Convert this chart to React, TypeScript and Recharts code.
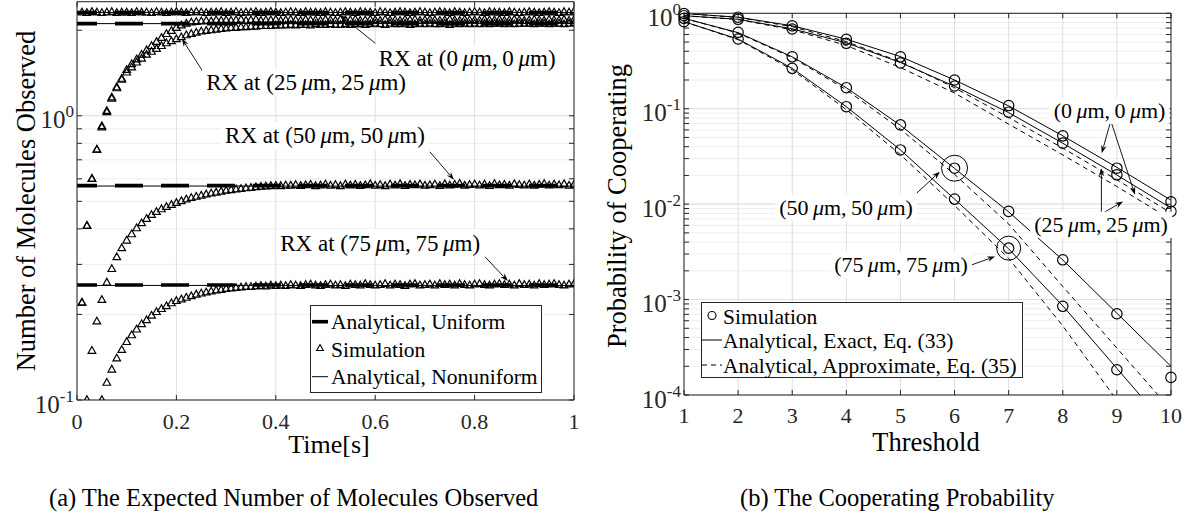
import React from 'react';
import { LineChart, Line, XAxis, YAxis, CartesianGrid, ReferenceLine, ReferenceDot } from 'recharts';

const FONT = '"Liberation Serif", "Times New Roman", Times, serif';
const AXIS = '#262626';
const GRID_MAJOR = '#dedede';
const GRID_MINOR = '#eeeeee';

// ---------------- (a) expected number of molecules observed ----------------
const timeTicks = [0, 0.2, 0.4, 0.6, 0.8, 1];
const timeSpan = [0, 1];
const moleculeTicks = [0.1, 1];
const moleculeMinorTicks = [0.1, 0.2, 0.3, 0.4, 0.5, 0.6, 0.7, 0.8, 0.9, 1, 2];
const moleculeDomain = [0.1, 2.52];
const SAMPLE_STEP = 0.01;

const uniformLevels = [2.31, 2.11, 0.568, 0.254];
const nonuniformLevels = [2.31, 2.11, 0.566, 0.253];

const simRx00 = [
  2.31, 2.30, 2.32, 2.31, 2.30, 2.31, 2.32, 2.30, 2.31, 2.31,
  2.30, 2.32, 2.31, 2.31, 2.30, 2.32, 2.31, 2.30, 2.31, 2.32,
  2.31, 2.30, 2.31, 2.32, 2.31, 2.30, 2.31, 2.31, 2.32, 2.30,
  2.31, 2.32, 2.30, 2.31, 2.31, 2.32, 2.30, 2.31, 2.32, 2.31,
  2.30, 2.31, 2.32, 2.31, 2.30, 2.32, 2.31, 2.31, 2.30, 2.32,
  2.31, 2.30, 2.31, 2.32, 2.31, 2.30, 2.32, 2.31, 2.31, 2.30,
  2.32, 2.31, 2.30, 2.31, 2.32, 2.31, 2.30, 2.31, 2.32, 2.31,
  2.30, 2.31, 2.32, 2.31, 2.30, 2.32, 2.31, 2.30, 2.31, 2.32,
  2.31, 2.30, 2.32, 2.31, 2.31, 2.30, 2.32, 2.31, 2.30, 2.31,
  2.32, 2.31, 2.30, 2.31, 2.32, 2.31, 2.30, 2.32, 2.31, 2.33,
];
const simRx25Upper = [
  0.22, 0.41, 0.60, 0.76, 0.92, 1.04, 1.16, 1.26, 1.35, 1.45,
  1.52, 1.58, 1.64, 1.70, 1.76, 1.82, 1.88, 1.94, 1.99, 2.04,
  2.08, 2.11, 2.13, 2.14, 2.15, 2.16, 2.15, 2.17, 2.16, 2.17,
  2.16, 2.17, 2.18, 2.16, 2.17, 2.18, 2.16, 2.17, 2.17, 2.18,
  2.16, 2.17, 2.18, 2.17, 2.16, 2.18, 2.17, 2.17, 2.16, 2.18,
  2.17, 2.16, 2.18, 2.17, 2.17, 2.18, 2.16, 2.17, 2.18, 2.17,
  2.16, 2.18, 2.17, 2.17, 2.16, 2.18, 2.17, 2.18, 2.16, 2.17,
  2.18, 2.17, 2.16, 2.17, 2.18, 2.17, 2.16, 2.18, 2.17, 2.17,
  2.16, 2.18, 2.17, 2.17, 2.18, 2.16, 2.17, 2.18, 2.17, 2.16,
  2.17, 2.18, 2.17, 2.16, 2.18, 2.17, 2.17, 2.18, 2.16, 2.18,
];
const simRx25Lower = [
  0.22, 0.41, 0.60, 0.76, 0.91, 1.03, 1.15, 1.25, 1.34, 1.42,
  1.48, 1.54, 1.59, 1.64, 1.68, 1.72, 1.76, 1.80, 1.83, 1.86,
  1.89, 1.92, 1.94, 1.96, 1.98, 1.99, 2.00, 2.01, 2.02, 2.03,
  2.04, 2.04, 2.05, 2.05, 2.06, 2.06, 2.07, 2.07, 2.07, 2.08,
  2.08, 2.08, 2.09, 2.08, 2.09, 2.09, 2.08, 2.10, 2.09, 2.09,
  2.10, 2.09, 2.09, 2.10, 2.09, 2.10, 2.10, 2.09, 2.10, 2.11,
  2.10, 2.09, 2.11, 2.10, 2.10, 2.11, 2.09, 2.10, 2.11, 2.10,
  2.11, 2.10, 2.10, 2.11, 2.09, 2.11, 2.10, 2.11, 2.10, 2.11,
  2.10, 2.11, 2.10, 2.11, 2.11, 2.10, 2.11, 2.10, 2.11, 2.11,
  2.11, 2.10, 2.11, 2.11, 2.10, 2.11, 2.11, 2.10, 2.11, 2.12,
];
const simRx50 = [
  null, 0.100, 0.149, 0.189, 0.225, 0.259, 0.289, 0.318, 0.342, 0.364,
  0.383, 0.402, 0.419, 0.434, 0.448, 0.459, 0.469, 0.478, 0.486, 0.494,
  0.501, 0.508, 0.514, 0.519, 0.524, 0.529, 0.533, 0.537, 0.541, 0.545,
  0.548, 0.551, 0.553, 0.556, 0.558, 0.561, 0.563, 0.564, 0.566, 0.567,
  0.566, 0.569, 0.568, 0.571, 0.567, 0.570, 0.572, 0.566, 0.569, 0.573,
  0.568, 0.571, 0.566, 0.574, 0.569, 0.572, 0.567, 0.570, 0.575, 0.568,
  0.571, 0.566, 0.573, 0.569, 0.575, 0.567, 0.572, 0.570, 0.574, 0.568,
  0.570, 0.573, 0.567, 0.575, 0.569, 0.572, 0.577, 0.568, 0.571, 0.574,
  0.569, 0.573, 0.567, 0.576, 0.570, 0.572, 0.568, 0.575, 0.571, 0.569,
  0.574, 0.568, 0.572, 0.576, 0.569, 0.573, 0.570, 0.575, 0.568, 0.572,
];
const simRx75 = [
  null, null, null, null, 0.100, 0.115, 0.128, 0.140, 0.150, 0.160,
  0.169, 0.177, 0.185, 0.191, 0.198, 0.204, 0.209, 0.214, 0.219, 0.223,
  0.226, 0.229, 0.232, 0.235, 0.237, 0.239, 0.241, 0.243, 0.244, 0.246,
  0.247, 0.248, 0.249, 0.250, 0.250, 0.251, 0.252, 0.251, 0.253, 0.252,
  0.253, 0.252, 0.254, 0.253, 0.252, 0.254, 0.255, 0.253, 0.252, 0.254,
  0.255, 0.253, 0.254, 0.252, 0.255, 0.254, 0.253, 0.256, 0.254, 0.253,
  0.254, 0.256, 0.253, 0.255, 0.254, 0.252, 0.255, 0.256, 0.253, 0.254,
  0.255, 0.253, 0.256, 0.254, 0.255, 0.253, 0.256, 0.254, 0.253, 0.255,
  0.256, 0.254, 0.253, 0.255, 0.256, 0.254, 0.255, 0.253, 0.256, 0.254,
  0.255, 0.253, 0.256, 0.254, 0.255, 0.256, 0.254, 0.253, 0.255, 0.256,
];

// annotation anchors (data coordinates of panel a)
const rxLabelsA = [
  { a: '0', b: '0', at: [0.785, 1.588], w: 188, from: [0.6, 1.80], to: [0.53, 2.26] },
  { a: '25', b: '25', at: [0.461, 1.307], w: 208, from: [0.2535, 1.429], to: [0.211, 1.867] },
  { a: '50', b: '50', at: [0.499, 0.85], w: 208, from: [0.71, 0.747], to: [0.7585, 0.595] },
  { a: '75', b: '75', at: [0.61, 0.357], w: 208, from: [0.821, 0.319], to: [0.867, 0.262] },
];

// ---------------- (b) cooperating probability ----------------
const thresholds = [1, 2, 3, 4, 5, 6, 7, 8, 9, 10];
const probTicks = [1e-4, 1e-3, 1e-2, 1e-1, 1];
const probMinorTicks = [
  1e-4, 2e-4, 3e-4, 4e-4, 5e-4, 6e-4, 7e-4, 8e-4, 9e-4,
  1e-3, 2e-3, 3e-3, 4e-3, 5e-3, 6e-3, 7e-3, 8e-3, 9e-3,
  1e-2, 2e-2, 3e-2, 4e-2, 5e-2, 6e-2, 7e-2, 8e-2, 9e-2,
  0.1, 0.2, 0.3, 0.4, 0.5, 0.6, 0.7, 0.8, 0.9, 1,
];
const probDomain = [1e-4, 1];

const coopSim00 = [0.995, 0.91, 0.74, 0.534, 0.35, 0.2, 0.108, 0.052, 0.0238, 0.0106];
const coopSim25 = [0.944, 0.865, 0.685, 0.485, 0.302, 0.173, 0.092, 0.0436, 0.0203, 0.0084];
const coopSim50 = [0.886, 0.632, 0.35, 0.166, 0.0677, 0.0238, 0.0084, 0.00261, 0.00071, 0.000153];
const coopSim75 = [0.817, 0.538, 0.265, 0.105, 0.037, 0.0113, 0.00346, 0.00085, 0.000184, null];

const coopExact00 = [0.995, 0.91, 0.74, 0.535, 0.352, 0.2, 0.107, 0.052, 0.0243, 0.011];
const coopExact25 = [0.944, 0.865, 0.688, 0.49, 0.305, 0.172, 0.091, 0.0435, 0.0202, 0.0091];
const coopExact50 = [0.886, 0.627, 0.35, 0.166, 0.067, 0.0237, 0.0083, 0.0026, 0.00072, 0.0002];
const coopExact75 = [0.817, 0.537, 0.265, 0.105, 0.037, 0.0113, 0.0034, 0.00086, 0.00019, 0.000042];

const coopApprox00 = [0.995, 0.905, 0.725, 0.505, 0.31, 0.166, 0.081, 0.0386, 0.018, 0.0081];
const coopApprox25 = [0.944, 0.86, 0.672, 0.46, 0.27, 0.146, 0.069, 0.0328, 0.0153, 0.0069];
const coopApprox50 = [0.886, 0.62, 0.343, 0.158, 0.061, 0.0205, 0.0062, 0.00137, 0.00031, 0.00007];
const coopApprox75 = [0.817, 0.53, 0.256, 0.098, 0.033, 0.0097, 0.0027, 0.00053, 0.000088, 0.000015];

const posLabelsB = [
  { a: '0', b: '0', at: [8.864, 0.0953], w: 120, arrows: [[[8.873, 0.07], [8.72, 0.0342]], [[8.904, 0.07], [9.335, 0.01253]]] },
  { a: '25', b: '25', at: [8.707, 0.00607], w: 142, arrows: [[[8.714, 0.0079], [8.714, 0.0238]], [[8.714, 0.0079], [9.114, 0.01065]]] },
  { a: '50', b: '50', at: [3.994, 0.00915], w: 142, arrows: [[[5.3, 0.01303], [5.73, 0.0219]]] },
  { a: '75', b: '75', at: [5.01, 0.00231], w: 142, arrows: [[[6.318, 0.00231], [6.749, 0.00283]]] },
];
const highlighted = [
  { x: thresholds[5], y: coopSim50[5], r: 13 },
  { x: thresholds[6], y: coopSim75[6], r: 12 },
];

// ---------------- helpers ----------------
const timeSeries = (vals: (number | null)[]) => vals.map((y, i) => ({ x: Math.round((i + 1) * SAMPLE_STEP * 100) / 100, y }));
const threshSeries = (vals: (number | null)[]) => vals.map((y, i) => ({ x: thresholds[i], y }));
const flatSeries = (level: number) => timeSpan.map((x) => ({ x, y: level }));

const NoTick = () => <g />;

const PowTick = (props: any) => {
  const { x, y, payload } = props;
  const exp = Math.round(Math.log10(payload.value));
  return (
    <text x={x} y={y + 12.5} textAnchor="end" fontFamily={FONT} fontSize={25} fill={AXIS}>
      10<tspan dy={-11} fontSize={17}>{String(exp)}</tspan>
    </text>
  );
};

const makeXTick = (off: number) => (props: any) => {
  const { x, y, payload } = props;
  return (
    <text x={x} y={y + off} textAnchor="middle" fontFamily={FONT} fontSize={22} fill={AXIS}>
      {String(payload.value)}
    </text>
  );
};

const TriangleDot = (props: any) => {
  const { cx, cy } = props;
  if (cx == null || cy == null || isNaN(cx) || isNaN(cy)) return <g />;
  return (
    <path
      d={`M${cx},${cy - 4.2}L${cx + 3.8},${cy + 2.5}L${cx - 3.8},${cy + 2.5}Z`}
      fill="none"
      stroke="#000"
      strokeWidth={1.2}
    />
  );
};

const ArrowShape = (props: any) => {
  const { x1, y1, x2, y2 } = props;
  const ang = Math.atan2(y2 - y1, x2 - x1);
  const L = 8;
  const W = 2.8;
  const bx = x2 - L * Math.cos(ang);
  const by = y2 - L * Math.sin(ang);
  const px = -Math.sin(ang);
  const py = Math.cos(ang);
  return (
    <g>
      <line x1={x1} y1={y1} x2={bx + 2 * Math.cos(ang)} y2={by + 2 * Math.sin(ang)} stroke="#000" strokeWidth={0.9} />
      <polygon
        points={`${x2},${y2} ${bx + W * px},${by + W * py} ${bx + 2.5 * Math.cos(ang)},${by + 2.5 * Math.sin(ang)} ${bx - W * px},${by - W * py}`}
        fill="#000"
      />
    </g>
  );
};

const PosText = ({ cx, cy, a, b, prefix, w, fs }: any) => (
  <g>
    <rect x={cx - w / 2} y={cy - fs * 0.6} width={w} height={fs * 1.2} fill="#fff" />
    <text x={cx} y={cy + fs * 0.33} textAnchor="middle" fontFamily={FONT} fontSize={fs} fill="#000">
      {prefix}({a}{'\u2009'}<tspan fontStyle="italic">μ</tspan>m,{'\u2009'}{b}{'\u2009'}<tspan fontStyle="italic">μ</tspan>m)
    </text>
  </g>
);

// ---------------- charts ----------------
const ChartA = () => (
  <LineChart width={600} height={470} margin={{ top: 1.7, right: 26, left: 0, bottom: 40 }}>
    <XAxis xAxisId="x" type="number" dataKey="x" domain={timeSpan} ticks={timeTicks} allowDataOverflow interval={0}
      height={30} tickLine={false} tickSize={0} tickMargin={0} stroke={AXIS} tick={makeXTick(29)} />
    <XAxis xAxisId="xb" type="number" dataKey="x" domain={timeSpan} ticks={timeTicks} allowDataOverflow interval={0}
      mirror orientation="bottom" tick={NoTick} tickSize={5} axisLine={false} stroke={AXIS} />
    <XAxis xAxisId="xt" type="number" dataKey="x" domain={timeSpan} ticks={timeTicks} allowDataOverflow interval={0}
      mirror orientation="top" tick={NoTick} tickSize={5} stroke={AXIS} />
    <YAxis yAxisId="y" type="number" scale="log" domain={moleculeDomain} allowDataOverflow ticks={moleculeTicks} interval={0}
      width={77} tickLine={false} tickSize={0} tickMargin={3} stroke={AXIS} tick={PowTick} />
    <YAxis yAxisId="yl" type="number" scale="log" domain={moleculeDomain} allowDataOverflow ticks={moleculeMinorTicks} interval={0}
      mirror orientation="left" tick={NoTick} tickSize={5} axisLine={false} stroke={AXIS} />
    <YAxis yAxisId="yr" type="number" scale="log" domain={moleculeDomain} allowDataOverflow ticks={moleculeMinorTicks} interval={0}
      mirror orientation="right" tick={NoTick} tickSize={5} stroke={AXIS} />
    <CartesianGrid xAxisId="x" yAxisId="yl" vertical={false} stroke={GRID_MINOR} />
    <CartesianGrid xAxisId="x" yAxisId="y" stroke={GRID_MAJOR} />

    {uniformLevels.map((lv, i) => (
      <Line key={'u' + i} xAxisId="x" yAxisId="y" data={flatSeries(lv)} dataKey="y" stroke="#000" strokeWidth={3.6}
        strokeDasharray="28 18" strokeDashoffset={8} dot={false} activeDot={false} isAnimationActive={false} />
    ))}
    {nonuniformLevels.map((lv, i) => (
      <Line key={'n' + i} xAxisId="x" yAxisId="y" data={flatSeries(lv)} dataKey="y" stroke="#000" strokeWidth={1}
        dot={false} activeDot={false} isAnimationActive={false} />
    ))}
    {[simRx00, simRx25Upper, simRx25Lower, simRx50, simRx75].map((s, i) => (
      <Line key={'s' + i} xAxisId="x" yAxisId="y" data={timeSeries(s)} dataKey="y" stroke="none"
        dot={TriangleDot} activeDot={false} isAnimationActive={false} />
    ))}

    {rxLabelsA.map((l, i) => (
      <ReferenceDot key={'t' + i} xAxisId="x" yAxisId="y" x={l.at[0]} y={l.at[1]} r={0} ifOverflow="visible"
        shape={(p: any) => <PosText cx={p.cx} cy={p.cy} a={l.a} b={l.b} prefix="RX at " w={l.w} fs={23} />} />
    ))}
    {rxLabelsA.map((l, i) => (
      <ReferenceLine key={'a' + i} xAxisId="x" yAxisId="y" ifOverflow="visible"
        segment={[{ x: l.from[0], y: l.from[1] }, { x: l.to[0], y: l.to[1] }]} shape={ArrowShape} />
    ))}
  </LineChart>
);

const ChartB = () => (
  <LineChart width={591} height={470} margin={{ top: 13.3, right: 20, left: 0, bottom: 45 }}>
    <XAxis xAxisId="x" type="number" dataKey="x" domain={[1, 10]} ticks={thresholds} allowDataOverflow interval={0}
      height={30} tickLine={false} tickSize={0} tickMargin={0} stroke={AXIS} tick={makeXTick(28)} />
    <XAxis xAxisId="xb" type="number" dataKey="x" domain={[1, 10]} ticks={thresholds} allowDataOverflow interval={0}
      mirror orientation="bottom" tick={NoTick} tickSize={5} axisLine={false} stroke={AXIS} />
    <XAxis xAxisId="xt" type="number" dataKey="x" domain={[1, 10]} ticks={thresholds} allowDataOverflow interval={0}
      mirror orientation="top" tick={NoTick} tickSize={5} stroke={AXIS} />
    <YAxis yAxisId="y" type="number" scale="log" domain={probDomain} allowDataOverflow ticks={probTicks} interval={0}
      width={84} tickLine={false} tickSize={0} tickMargin={3} stroke={AXIS} tick={PowTick} />
    <YAxis yAxisId="yl" type="number" scale="log" domain={probDomain} allowDataOverflow ticks={probMinorTicks} interval={0}
      mirror orientation="left" tick={NoTick} tickSize={5} axisLine={false} stroke={AXIS} />
    <YAxis yAxisId="yr" type="number" scale="log" domain={probDomain} allowDataOverflow ticks={probMinorTicks} interval={0}
      mirror orientation="right" tick={NoTick} tickSize={5} stroke={AXIS} />
    <CartesianGrid xAxisId="x" yAxisId="yl" vertical={false} stroke={GRID_MINOR} />
    <CartesianGrid xAxisId="x" yAxisId="y" stroke={GRID_MAJOR} />

    {[coopApprox00, coopApprox25, coopApprox50, coopApprox75].map((s, i) => (
      <Line key={'ap' + i} xAxisId="x" yAxisId="y" data={threshSeries(s)} dataKey="y" stroke="#000" strokeWidth={1}
        strokeDasharray="5 4" dot={false} activeDot={false} isAnimationActive={false} />
    ))}
    {[coopExact00, coopExact25, coopExact50, coopExact75].map((s, i) => (
      <Line key={'ex' + i} xAxisId="x" yAxisId="y" data={threshSeries(s)} dataKey="y" stroke="#000" strokeWidth={1}
        dot={false} activeDot={false} isAnimationActive={false} />
    ))}
    {[coopSim00, coopSim25, coopSim50, coopSim75].map((s, i) => (
      <Line key={'sm' + i} xAxisId="x" yAxisId="y" data={threshSeries(s)} dataKey="y" stroke="none"
        dot={{ r: 5.2, fill: 'none', stroke: '#000', strokeWidth: 1.2, clipDot: false }} activeDot={false} isAnimationActive={false} />
    ))}
    {highlighted.map((h, i) => (
      <ReferenceDot key={'h' + i} xAxisId="x" yAxisId="y" x={h.x} y={h.y} r={h.r} fill="none" stroke="#000" strokeWidth={1} ifOverflow="visible" />
    ))}

    {posLabelsB.map((l, i) => (
      <ReferenceDot key={'t' + i} xAxisId="x" yAxisId="y" x={l.at[0]} y={l.at[1]} r={0} ifOverflow="visible"
        shape={(p: any) => <PosText cx={p.cx} cy={p.cy} a={l.a} b={l.b} prefix="" w={l.w} fs={22} />} />
    ))}
    {posLabelsB.flatMap((l, i) => l.arrows.map((ar, j) => (
      <ReferenceLine key={'a' + i + '-' + j} xAxisId="x" yAxisId="y" ifOverflow="visible"
        segment={[{ x: ar[0][0], y: ar[0][1] }, { x: ar[1][0], y: ar[1][1] }]} shape={ArrowShape} />
    )))}
  </LineChart>
);

const Overlay = () => (
  <svg width={1191} height={523} style={{ position: 'absolute', left: 0, top: 0, pointerEvents: 'none' }}>
    <g fontFamily={FONT} fill="#000">
      {/* axis titles */}
      <text x={329} y={453} textAnchor="middle" fontSize={26}>Time[s]</text>
      <text x={926} y={451} textAnchor="middle" fontSize={26.5}>Threshold</text>
      <text x={35} y={201} textAnchor="middle" fontSize={26.5} transform="rotate(-90 35 201)">Number of Molecules Observed</text>
      <text x={626} y={206} textAnchor="middle" fontSize={26.5} transform="rotate(-90 626 206)">Probability of Cooperating</text>

      {/* legend (a) */}
      <rect x={310.5} y={305.5} width={231} height={87} fill="#fff" stroke={AXIS} strokeWidth={1} />
      <line x1={312} y1={321.7} x2={328} y2={321.7} stroke="#000" strokeWidth={3.6} />
      <path d="M320,344.5L323.4,350.5L316.6,350.5Z" fill="none" stroke="#000" strokeWidth={1.1} />
      <line x1={312} y1={376.7} x2={328} y2={376.7} stroke="#000" strokeWidth={1} />
      <text x={331} y={329} fontSize={21.5}>Analytical, Uniform</text>
      <text x={331} y={357} fontSize={21.5}>Simulation</text>
      <text x={331} y={384} fontSize={21.5}>Analytical, Nonuniform</text>

      {/* legend (b) */}
      <rect x={701.5} y={302.5} width={321} height={75} fill="#fff" stroke={AXIS} strokeWidth={1} />
      <circle cx={712} cy={315.5} r={4} fill="none" stroke="#000" strokeWidth={1.1} />
      <line x1={702} y1={340} x2={722} y2={340} stroke="#000" strokeWidth={1} />
      <line x1={702} y1={365} x2={722} y2={365} stroke="#000" strokeWidth={1} strokeDasharray="5 4" />
      <text x={723} y={323.5} fontSize={21.5}>Simulation</text>
      <text x={723} y={347.5} fontSize={21.5}>Analytical, Exact, Eq. (33)</text>
      <text x={723} y={372.5} fontSize={21.5}>Analytical, Approximate, Eq. (35)</text>

      {/* captions */}
      <text x={49} y={506} fontSize={24.5}>(a) The Expected Number of Molecules Observed</text>
      <text x={740} y={506} fontSize={24.5}>(b) The Cooperating Probability</text>
    </g>
  </svg>
);

export default function App() {
  return (
    <div style={{ position: 'absolute', left: 0, top: 0, width: 1191, height: 523, background: '#fff', overflow: 'hidden' }}>
      <div style={{ position: 'absolute', left: 0, top: 0 }}>
        <ChartA />
      </div>
      <div style={{ position: 'absolute', left: 600, top: 0 }}>
        <ChartB />
      </div>
      <Overlay />
    </div>
  );
}
